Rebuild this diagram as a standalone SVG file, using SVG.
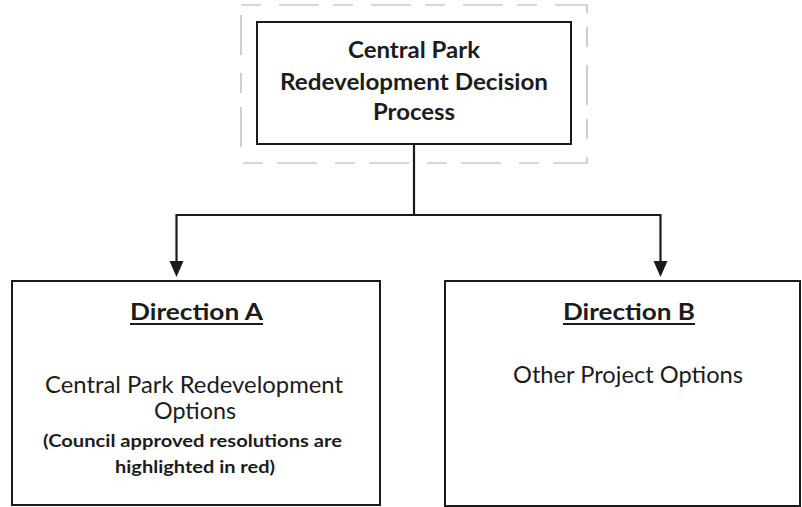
<svg xmlns="http://www.w3.org/2000/svg" width="802" height="507" viewBox="0 0 802 507">
<style>
.box{fill:#fff;stroke:#1a1a1a;stroke-width:2}
.frame{fill:none;stroke:#b0b0b0;stroke-width:1.2;stroke-dasharray:20 18 40 14}
.t{font-family:Lato,"Open Sans","Liberation Sans",sans-serif;fill:#1c1c1c;text-anchor:middle}
.b{font-weight:bold}
.conn{fill:none;stroke:#1a1a1a;stroke-width:2.2}
</style>
<rect width="802" height="507" fill="#fff"/>
<g id="connectors">
<path class="conn" d="M414,144 V215"/>
<path class="conn" d="M176.5,215 H660.5"/>
<path class="conn" d="M176.5,214 V264"/>
<path class="conn" d="M660.5,214 V264"/>
<path d="M169.5,261 L183.5,261 L176.5,277 Z" fill="#1a1a1a"/>
<path d="M653.5,261 L667.5,261 L660.5,277 Z" fill="#1a1a1a"/>
</g>
<g id="top">
<rect class="frame" x="241" y="5" width="346" height="158"/>
<rect class="box" x="257" y="22" width="314" height="122"/>
<text class="t b" x="414" y="58" font-size="22.5" textLength="132" lengthAdjust="spacingAndGlyphs">Central Park</text>
<text class="t b" x="414" y="90" font-size="22.5" textLength="268" lengthAdjust="spacingAndGlyphs">Redevelopment Decision</text>
<text class="t b" x="414" y="120" font-size="22.5" textLength="82" lengthAdjust="spacingAndGlyphs">Process</text>
</g>
<g id="dirA">
<rect class="box" x="12" y="281" width="368" height="224"/>
<text class="t b" x="196.5" y="320" font-size="23.5" textLength="133" lengthAdjust="spacingAndGlyphs">Direction A</text>
<line x1="130" y1="324" x2="263" y2="324" stroke="#1c1c1c" stroke-width="1.8"/>
<text class="t" x="194" y="393" font-size="23.5" textLength="298" lengthAdjust="spacingAndGlyphs">Central Park Redevelopment</text>
<text class="t" x="195" y="419" font-size="23.5" textLength="82" lengthAdjust="spacingAndGlyphs">Options</text>
<text class="t b" x="192.5" y="447" font-size="16.5" textLength="299" lengthAdjust="spacingAndGlyphs">(Council approved resolutions are</text>
<text class="t b" x="195" y="473" font-size="16.5" textLength="160" lengthAdjust="spacingAndGlyphs">highlighted in red)</text>
</g>
<g id="dirB">
<rect class="box" x="445" y="281" width="355" height="225"/>
<text class="t b" x="629" y="320" font-size="23.5" textLength="132" lengthAdjust="spacingAndGlyphs">Direction B</text>
<line x1="563" y1="324" x2="695" y2="324" stroke="#1c1c1c" stroke-width="1.8"/>
<text class="t" x="628" y="383" font-size="23.5" textLength="230" lengthAdjust="spacingAndGlyphs">Other Project Options</text>
</g>
</svg>
